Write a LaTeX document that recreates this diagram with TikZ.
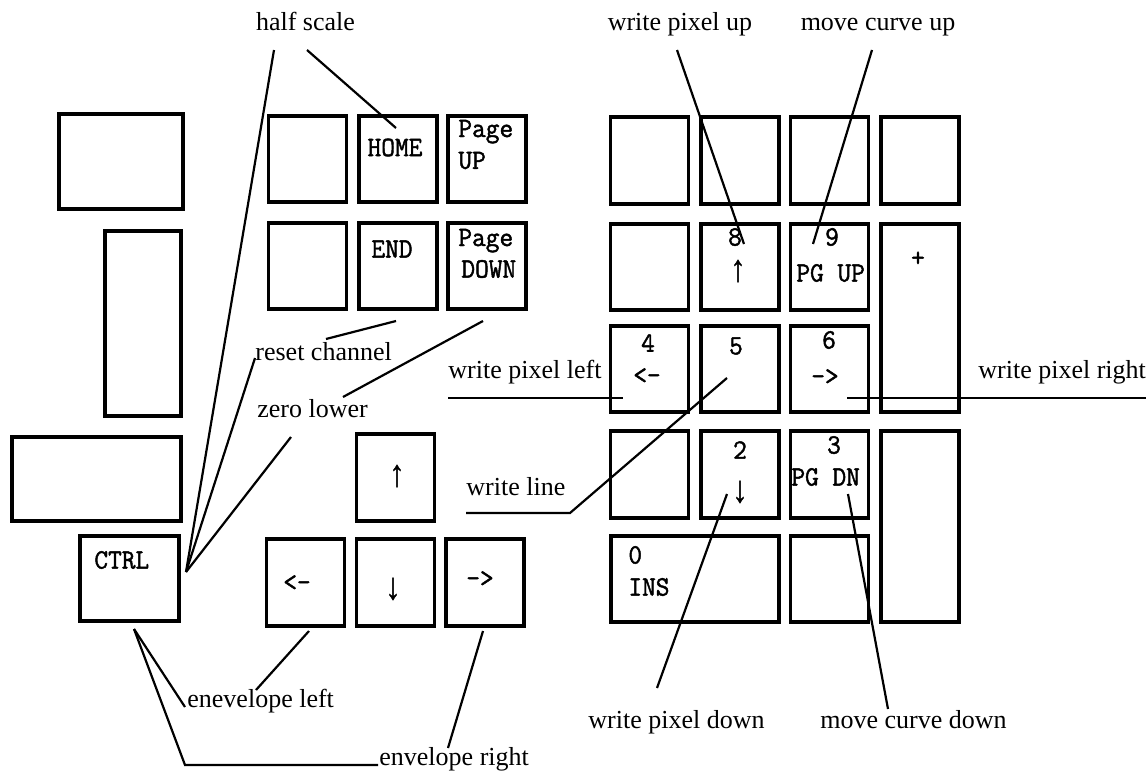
\documentclass[tikz,border=0pt]{standalone}
\usepackage{fontspec}
\setmainfont{Liberation Serif}
\newfontfamily\keyfont{Latin Modern Mono}[FakeStretch=0.95, FakeBold=1.6]
\newfontfamily\arrfont{Liberation Mono}[FakeStretch=0.8, FakeBold=0.8]
\usepackage{tikz}

\begin{document}
\begin{tikzpicture}[x=0.5pt, y=-0.5pt,
    key/.style={draw, line width=1.95pt, inner sep=0pt,
                minimum width=39pt, minimum height=43.3pt},
    keytxt/.style={inner sep=0pt, font=\keyfont\fontsize{14}{15}\selectfont},
    keyarr/.style={inner sep=0pt, font=\arrfont\fontsize{19}{20}\selectfont},
    note/.style={inner sep=0pt, font=\fontsize{13}{15}\selectfont},
    lead/.style={line width=1.1pt}]
  \useasboundingbox (0,0) rectangle (1148,776);

  % left block (units are pixels of the sheet, y runs down)
  \node[key, minimum width=62.1pt, minimum height=47.6pt] (lk1) at (121,161.5) {};
  \node[key, minimum width=38.1pt, minimum height=92.6pt] (lk2) at (143,323.5) {};
  \node[key, minimum width=84.6pt, minimum height=42.1pt] (lk3) at (96.5,479) {};
  \node[key, minimum width=49.6pt, minimum height=42.6pt] (ctrl) at (129.5,578.5) {};
  \node[keytxt, anchor=west] (t-ctrl) at (94,560) {CTRL};

  % editing block
  \node[key] (ed1) at (307.5,159) {};
  \node[key] (home) at (398,159) {};
  \node[key] (pgup) at (487,159) {};
  \node[key] (ed2) at (307.5,266) {};
  \node[key] (endkey) at (398,266) {};
  \node[key] (pgdn) at (487,266) {};
  \node[keytxt] (t-home) at (395,147.5) {HOME};
  \node[keytxt, anchor=base west] (t-pgup) at (458,137) {Page};
  \node[keytxt, anchor=west] (t-pgup2) at (458,160.5) {UP};
  \node[keytxt] (t-end) at (392,249) {END};
  \node[keytxt, anchor=base west] (t-pgdn) at (458,246) {Page};
  \node[keytxt, anchor=west] (t-pgdn2) at (461,269) {DOWN};

  % cursor keys
  \node[key] (curu) at (395.5,477.5) {};
  \node[key] (curl) at (305.5,582.5) {};
  \node[key] (curd) at (395.5,582.5) {};
  \node[key] (curr) at (485,582.5) {};
  \node[keyarr] (t-curu) at (397,476) {↑};
  \node[keytxt] (t-curl) at (297,583) {<-};
  \node[keyarr] (t-curd) at (393,589) {↓};
  \node[keytxt] (t-curr) at (480,579) {->};

  % numeric keypad
  \node[key] (np1) at (649.5,160.5) {};
  \node[key] (np2) at (740,160.5) {};
  \node[key] (np3) at (829.5,160.5) {};
  \node[key] (np4) at (920,160.5) {};
  \node[key] (np5) at (649.5,267) {};
  \node[key] (k8) at (740,267) {};
  \node[key] (k9) at (829.5,267) {};
  \node[key, minimum height=94.1pt] (plus) at (920,318) {};
  \node[key] (k4) at (649.5,369) {};
  \node[key] (k5) at (740,369) {};
  \node[key] (k6) at (829.5,369) {};
  \node[key] (np6) at (649.5,474.5) {};
  \node[key] (k2) at (740,474.5) {};
  \node[key] (k3) at (829.5,474.5) {};
  \node[key, minimum height=95.6pt] (enter) at (920,526.5) {};
  \node[key, minimum width=84.1pt] (k0) at (695,579) {};
  \node[key] (del) at (829.5,579) {};
  \node[keytxt] (t-8) at (735,237) {8};
  \node[keyarr] (t-8a) at (738,271) {↑};
  \node[keytxt] (t-9) at (832,237) {9};
  \node[keytxt, anchor=west] (t-9a) at (796,273) {PG UP};
  \node[keytxt] (t-plus) at (918,259) {+};
  \node[keytxt] (t-4) at (648,343) {4};
  \node[keytxt] (t-4a) at (647,376) {<-};
  \node[keytxt] (t-5) at (736,346) {5};
  \node[keytxt] (t-6) at (829,340) {6};
  \node[keytxt] (t-6a) at (825,377) {->};
  \node[keytxt] (t-2) at (740,450) {2};
  \node[keyarr] (t-2a) at (740,492) {↓};
  \node[keytxt] (t-3) at (834,445) {3};
  \node[keytxt, anchor=west] (t-3a) at (791,477) {PG DN};
  \node[keytxt, anchor=west] (t-0) at (628,555) {0};
  \node[keytxt, anchor=west] (t-0a) at (628,587) {INS};

  % function labels
  \node[note, anchor=base] (halfscale) at (305.5,31) {half scale};
  \node[note, anchor=base] (pixup) at (680,31) {write pixel up};
  \node[note, anchor=base] (curveup) at (878,31) {move curve up};
  \node[note, anchor=base west] (reset) at (255,360) {reset channel};
  \node[note, anchor=base west] (zero) at (257,417) {zero lower};
  \node[note, anchor=base west] (pixleft) at (448,378) {write pixel left};
  \node[note, anchor=base west] (pixright) at (978,378) {write pixel right};
  \node[note, anchor=base west] (wline) at (466,495) {write line};
  \node[note, anchor=base west] (envleft) at (187,707) {enevelope left};
  \node[note, anchor=base west] (envright) at (379,765) {envelope right};
  \node[note, anchor=base west] (pixdown) at (588,728) {write pixel down};
  \node[note, anchor=base west] (curvedown) at (820,728) {move curve down};

  % leader ends
  \coordinate (hs-a) at (274,50);
  \coordinate (hs-b) at (307,50);
  \coordinate (ctrl-r) at (186,572);
  \coordinate (ctrl-b) at (134,629);
  \coordinate (home-p) at (396,128);
  \coordinate (end-p) at (396,321);
  \coordinate (rs-a) at (326,339);
  \coordinate (rs-b) at (255,358);
  \coordinate (pgdn-p) at (483,321);
  \coordinate (zl-a) at (343,397);
  \coordinate (zl-b) at (291,437);
  \coordinate (pl-a) at (448,398);
  \coordinate (k4-p) at (623,398);
  \coordinate (k6-p) at (847,398);
  \coordinate (pr-a) at (1146,398);
  \coordinate (wl-a) at (466,513);
  \coordinate (wl-b) at (570,513);
  \coordinate (k5-p) at (727,378);
  \coordinate (pu-a) at (677,50);
  \coordinate (k8-p) at (744,244);
  \coordinate (cu-a) at (872,50);
  \coordinate (k9-p) at (813,244);
  \coordinate (k2-p) at (727,494);
  \coordinate (pd-a) at (657,688);
  \coordinate (k3-p) at (848,494);
  \coordinate (cd-a) at (888,709);
  \coordinate (el-a) at (185,707);
  \coordinate (el-b) at (256,690);
  \coordinate (curl-p) at (309,631);
  \coordinate (er-a) at (185,765);
  \coordinate (er-b) at (378,765);
  \coordinate (curr-p) at (483,631);
  \coordinate (er-c) at (448,748);

  % leaders
  \draw[lead] (hs-a) -- (ctrl-r);
  \draw[lead] (hs-b) -- (home-p);
  \draw[lead] (rs-a) -- (end-p);
  \draw[lead] (rs-b) -- (ctrl-r);
  \draw[lead] (zl-a) -- (pgdn-p);
  \draw[lead] (zl-b) -- (ctrl-r);
  \draw[lead] (pl-a) -- (k4-p);
  \draw[lead] (k6-p) -- (pr-a);
  \draw[lead] (wl-a) -- (wl-b) -- (k5-p);
  \draw[lead] (pu-a) -- (k8-p);
  \draw[lead] (cu-a) -- (k9-p);
  \draw[lead] (k2-p) -- (pd-a);
  \draw[lead] (k3-p) -- (cd-a);
  \draw[lead] (ctrl-b) -- (el-a);
  \draw[lead] (ctrl-b) -- (er-a) -- (er-b);
  \draw[lead] (curl-p) -- (el-b);
  \draw[lead] (curr-p) -- (er-c);
\end{tikzpicture}
\end{document}
